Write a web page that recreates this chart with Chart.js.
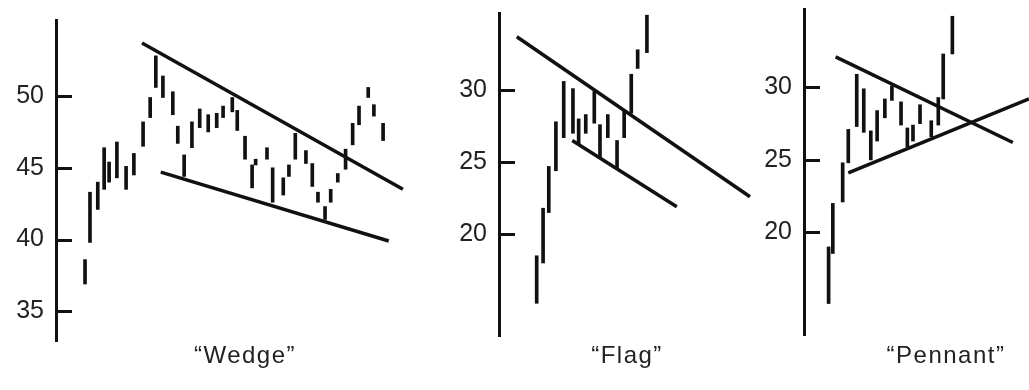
<!DOCTYPE html>
<html>
<head>
<meta charset="utf-8">
<script src="https://cdn.jsdelivr.net/npm/chart.js@4.4.0/dist/chart.umd.min.js"></script>
<style>
  body { margin: 0; background: #fff; }
  #wrap { position: relative; width: 1029px; height: 390px; overflow: hidden; }
  canvas { position: absolute; top: 0; }
  .caption {
    position: absolute; top: 343px;
    font: 24px 'Liberation Sans', Arial, sans-serif;
    line-height: 24px; letter-spacing: 1.5px; color: #222;
    transform: translateX(-50%); white-space: nowrap;
  }
</style>
</head>
<body>
<div id="wrap">
  <canvas id="wedge" width="420" height="390" style="left:0"></canvas>
  <canvas id="flag" width="330" height="390" style="left:430px"></canvas>
  <canvas id="pennant" width="269" height="390" style="left:760px"></canvas>
  <div class="caption" style="left:245px">“Wedge”</div>
  <div class="caption" style="left:627px">“Flag”</div>
  <div class="caption" style="left:946px">“Pennant”</div>
</div>
<script>
// Wedge: daily high/low bars
const wedgeDays  = [0.1, 0.8, 1.9, 2.8, 3.5, 4.6, 5.9, 7.0, 8.3, 9.3, 10.1, 11.1, 12.5, 13.2, 14.1, 15.2, 16.3, 17.5, 18.7, 19.6, 20.9,
                    21.6, 22.7, 23.7, 24.2, 25.8, 26.6, 28.1, 28.9, 29.8, 31.3, 32.2, 33.0, 34.0, 34.8, 35.8, 36.9, 37.9, 38.8, 40.1, 40.9, 42.2];
const wedgeHighs = [38.6, 43.3, 44.0, 46.4, 45.4, 46.8, 45.1, 46.0, 48.2, 49.9, 52.8, 51.4, 50.3, 47.9, 45.9, 48.2, 49.1, 48.7, 48.8, 49.3, 49.9,
                    49.0, 47.2, 45.2, 45.6, 46.4, 45.0, 44.3, 45.2, 47.4, 46.2, 45.3, 43.3, 42.3, 43.5, 44.6, 46.3, 48.1, 49.3, 50.6, 49.4, 48.1];
const wedgeLows  = [36.9, 39.8, 42.1, 43.5, 44.0, 44.3, 43.5, 44.5, 46.5, 48.5, 50.6, 49.9, 48.7, 46.7, 44.4, 46.4, 47.8, 47.5, 47.8, 48.5, 48.9,
                    47.6, 45.6, 43.6, 45.2, 45.6, 42.6, 43.1, 44.4, 45.6, 45.3, 43.7, 42.6, 41.4, 42.6, 44.0, 44.9, 46.6, 48.0, 49.9, 48.6, 46.9];
const wedgeUpperDays = [8.15, 45.0];
const wedgeUpperVals = [53.7, 43.5];
const wedgeLowerDays = [10.8, 43.0];
const wedgeLowerVals = [44.7, 39.9];
const wedgeTicks = [35, 40, 45, 50];

// Flag
const flagDays  = [0.3, 1.2, 2.0, 3.0, 4.1, 5.4, 6.2, 7.2, 8.4, 9.2, 10.3, 11.6, 12.6, 13.6, 14.5, 15.8];
const flagHighs = [18.5, 21.8, 24.7, 27.8, 30.6, 30.1, 28.0, 28.3, 29.9, 27.6, 28.3, 26.5, 28.6, 31.1, 32.8, 35.2];
const flagLows  = [15.2, 18.0, 21.5, 24.4, 26.7, 27.0, 26.25, 27.0, 27.7, 25.35, 26.7, 24.6, 26.7, 28.4, 31.5, 32.6];
const flagUpperDays = [-2.5, 30.3];
const flagUpperVals = [33.7, 22.6];
const flagLowerDays = [5.3, 20.0];
const flagLowerVals = [26.5, 21.9];
const flagTicks = [20, 25, 30];

// Pennant
const pennantDays  = [0, 0.6, 2.0, 2.8, 4.0, 5.0, 6.0, 6.9, 8.0, 9.0, 10.3, 11.2, 12.0, 13.0, 14.6, 15.6, 16.3, 17.6];
const pennantHighs = [19.0, 22.0, 24.8, 27.1, 30.9, 29.9, 27.0, 28.4, 29.2, 30.1, 29.0, 27.2, 27.4, 28.8, 27.7, 29.3, 32.3, 34.9];
const pennantLows  = [15.1, 18.55, 22.1, 24.8, 27.3, 26.9, 25.0, 26.3, 27.9, 29.1, 27.4, 25.9, 26.3, 27.5, 26.6, 27.4, 29.2, 32.3];
const pennantUpperDays = [1.0, 26.2];
const pennantUpperVals = [32.1, 26.2];
const pennantLowerDays = [2.8, 28.5];
const pennantLowerVals = [24.1, 29.2];
const pennantTicks = [20, 25, 30];

const ink = '#111';
const labelFont = { family: "'Liberation Sans', Arial, sans-serif", size: 25 };

// short tick marks pointing into the plot, like the original
const tickMarks = {
  id: 'tickMarks',
  afterDraw(chart) {
    const { ctx, chartArea, scales: { y } } = chart;
    ctx.save();
    ctx.strokeStyle = ink;
    ctx.lineWidth = 3;
    y.ticks.forEach(t => {
      const py = Math.round(y.getPixelForValue(t.value)) + 0.5;
      ctx.beginPath();
      ctx.moveTo(chartArea.left, py);
      ctx.lineTo(chartArea.left + 16, py);
      ctx.stroke();
    });
    ctx.restore();
  }
};

function trendLine(days, vals) {
  return {
    type: 'line',
    data: days.map((d, i) => ({ x: d, y: vals[i] })),
    borderColor: ink,
    borderWidth: 3.5,
    pointRadius: 0,
    borderCapStyle: 'butt',
    tension: 0
  };
}

function makePanel(id, days, highs, lows, lines, ticks, p) {
  new Chart(document.getElementById(id), {
    type: 'bar',
    data: {
      datasets: [
        {
          data: days.map((d, i) => ({ x: d, y: [lows[i], highs[i]] })),
          backgroundColor: ink,
          borderWidth: 0,
          barThickness: 3,
          grouped: false
        },
        ...lines
      ]
    },
    plugins: [tickMarks],
    options: {
      responsive: false,
      animation: false,
      layout: { padding: { left: 0, right: p.right, top: p.top, bottom: p.bottom } },
      plugins: { legend: { display: false }, tooltip: { enabled: false } },
      scales: {
        x: { type: 'linear', min: p.xMin, max: p.xMax, offset: false, display: false },
        y: {
          type: 'linear',
          min: p.yMin,
          max: p.yMax,
          afterBuildTicks: s => { s.ticks = ticks.map(v => ({ value: v })); },
          afterFit: s => {
            s.width = p.axisX;
            // labels sit well inside the range, no extra room needed
            s.paddingTop = 0;
            s.paddingBottom = 0;
          },
          border: { display: true, width: 3, color: ink },
          grid: { drawOnChartArea: false, drawTicks: false, lineWidth: 3, color: ink },
          ticks: { padding: 12, color: '#222', font: labelFont }
        }
      }
    }
  });
}

makePanel('wedge', wedgeDays, wedgeHighs, wedgeLows,
  [trendLine(wedgeUpperDays, wedgeUpperVals), trendLine(wedgeLowerDays, wedgeLowerVals)],
  wedgeTicks, { xMin: -4, xMax: 46, yMin: 33.0, yMax: 55.3, axisX: 56, right: 10, top: 20, bottom: 50 });

makePanel('flag', flagDays, flagHighs, flagLows,
  [trendLine(flagUpperDays, flagUpperVals), trendLine(flagLowerDays, flagLowerVals)],
  flagTicks, { xMin: -5, xMax: 31, yMin: 13.0, yMax: 35.35, axisX: 69, right: 5, top: 13, bottom: 55 });

makePanel('pennant', pennantDays, pennantHighs, pennantLows,
  [trendLine(pennantUpperDays, pennantUpperVals), trendLine(pennantLowerDays, pennantLowerVals)],
  pennantTicks, { xMin: -3.5, xMax: 28.5, yMin: 13.0, yMax: 35.4, axisX: 44, right: 0, top: 9, bottom: 56 });
</script>
</body>
</html>
